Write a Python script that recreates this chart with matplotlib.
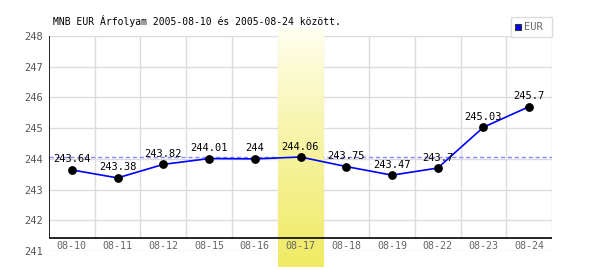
import numpy as np
import matplotlib
matplotlib.use("Agg")
import matplotlib.pyplot as plt
from matplotlib.patches import Rectangle
from matplotlib.lines import Line2D

dates = ["08-10", "08-11", "08-12", "08-15", "08-16", "08-17",
         "08-18", "08-19", "08-22", "08-23", "08-24"]
values = [243.64, 243.38, 243.82, 244.01, 244.0, 244.06,
          243.75, 243.47, 243.7, 245.03, 245.7]
value_labels = ["243.64", "243.38", "243.82", "244.01", "244", "244.06",
                "243.75", "243.47", "243.7", "245.03", "245.7"]
yticks = [241, 242, 243, 244, 245, 246, 247, 248]
highlight = "08-17"
title = "MNB EUR Árfolyam 2005-08-10 és 2005-08-24 között."
series_name = "EUR"

plt.rcParams['font.family'] = ['DejaVu Sans Mono', 'DejaVu Sans']

W, H = 600, 270
fig = plt.figure(figsize=(6, 2.7), dpi=100)
fig.patch.set_facecolor("white")

# axes box in pixels
left_px, right_px, top_px, bot_px = 49, 552, 36, 251
ax = fig.add_axes([left_px / W, 1 - bot_px / H,
                   (right_px - left_px) / W, (bot_px - top_px) / H])
ax.set_facecolor("white")
n = len(dates)
x = np.arange(n)
ymin, ymax = 241, 248
ax.set_xlim(-0.5, n - 0.5)
ax.set_ylim(ymin, ymax)
for s in ax.spines.values():
    s.set_visible(False)

px_per_unit = (bot_px - top_px) / (ymax - ymin)
def px2y(py):
    return ymax - (py - top_px) / px_per_unit

base = px2y(238)  # black baseline

# horizontal grid
for yv in yticks:
    ax.plot([-0.5, n - 0.5], [yv, yv], color="#dcdcdc", lw=1, zorder=1)
# vertical grid
for i in range(n):
    ax.plot([i + 0.5, i + 0.5], [base, ymax], color="#dcdcdc", lw=1, zorder=1)

# mean dashed line
mean = float(np.mean(values))
ax.plot([-0.5, n - 0.5], [mean, mean], color="#8888ff", lw=1,
        ls=(0, (3, 2)), zorder=1.5)

# highlight gradient band
hi = dates.index(highlight)
grad = np.linspace(0, 1, 256).reshape(-1, 1) ** 0.85
top_c = np.array([255, 255, 242]) / 255
bot_c = np.array([240, 234, 100]) / 255
img = top_c[None, None, :] * (1 - grad[..., None]) + bot_c[None, None, :] * grad[..., None]
ax.imshow(img, extent=[hi - 0.5, hi + 0.5, px2y(267), px2y(28)],
          aspect="auto", origin="upper", zorder=2, clip_on=False,
          interpolation="bilinear")

# black axis lines
ax.plot([-0.5, n - 0.5], [base, base], color="black", lw=1.2, zorder=3,
        solid_capstyle="butt")
ax.plot([-0.5, -0.5], [base, ymax], color="black", lw=1.2, zorder=3,
        solid_capstyle="butt")

# data
ax.plot(x, values, color="#0000ff", lw=1.2, zorder=4)
ax.plot(x, values, ls="none", marker="o", ms=5.3, color="black", zorder=5)
for xi, v, lab in zip(x, values, value_labels):
    ax.annotate(lab, (xi, v), xytext=(0, 7.5), textcoords="offset points",
                ha="center", va="center", fontsize=7.5, color="black", zorder=6)

# x labels inside the band below baseline
for xi, d in zip(x, dates):
    ax.text(xi, px2y(246.5), d, ha="center", va="center", fontsize=7.2,
            color="#666666", zorder=6)

ax.set_xticks([])
ax.set_yticks(yticks)
ax.set_yticklabels([str(t) for t in yticks])
ax.tick_params(axis="y", length=0, pad=4.5, labelsize=7.5, labelcolor="#555555")

# title
fig.text(53 / W, 1 - 21 / H, title, ha="left", va="center", fontsize=7.0,
         color="black")

# legend
lx0, lx1, ly0, ly1 = 511, 552, 17, 37
fig.add_artist(Rectangle((lx0 / W, 1 - ly1 / H), (lx1 - lx0) / W, (ly1 - ly0) / H,
                         transform=fig.transFigure, facecolor="white",
                         edgecolor="#dcdcdc", lw=1))
fig.add_artist(Line2D([518 / W], [1 - 27 / H], marker="s", ms=5,
                      markerfacecolor="#0000ff", markeredgecolor="#333333",
                      markeredgewidth=0.8, ls="none", transform=fig.transFigure))
fig.text(524 / W, 1 - 27.5 / H, series_name, ha="left", va="center",
         fontsize=7.5, color="#666666")

fig.savefig("out.png", dpi=100, facecolor="white")
